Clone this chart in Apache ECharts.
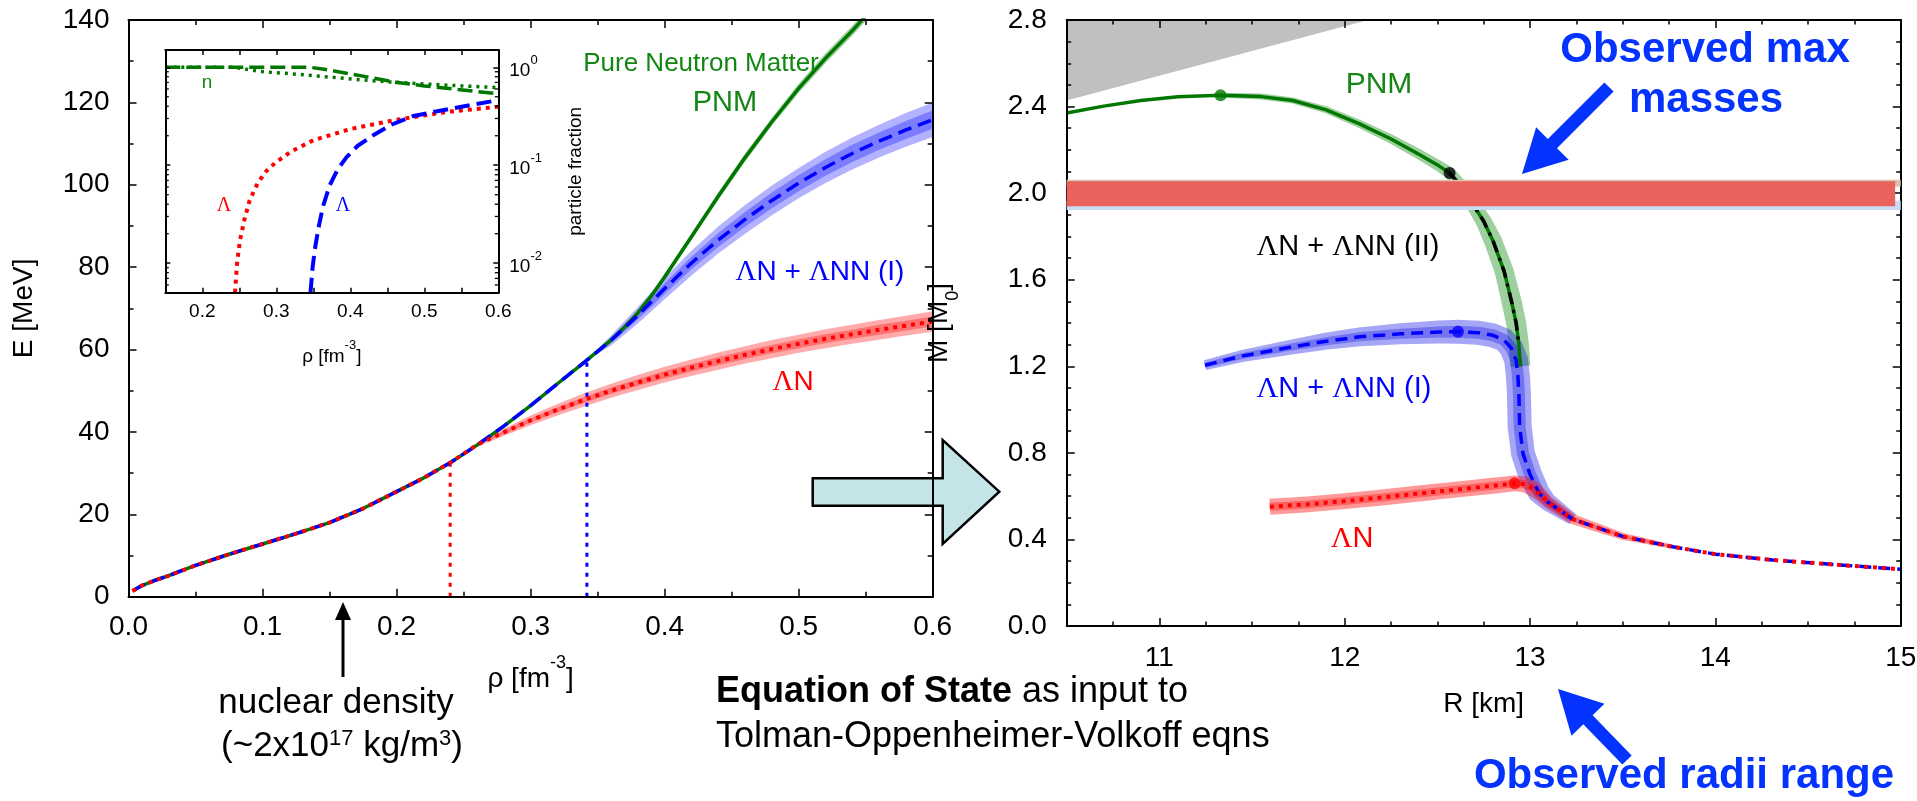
<!DOCTYPE html>
<html>
<head>
<meta charset="utf-8">
<title>Hyperon equation of state and neutron-star mass-radius relation</title>
<script src="https://cdn.jsdelivr.net/npm/echarts@6/dist/echarts.min.js"></script>
<style>
  html, body { margin: 0; padding: 0; background: #fff; }
  #chart { width: 1917px; height: 801px; }
</style>
</head>
<body>
<div id="chart"></div>
<script>
// ---------- Energy per particle E(rho) [MeV] vs density [fm^-3] ----------
// low-density part shared by all three models
const rhoLow = [0.003, 0.01, 0.02, 0.03, 0.05, 0.075, 0.10, 0.125, 0.15, 0.175, 0.20, 0.22, 0.24];
const eLow   = [1.4, 2.7, 4.0, 5.1, 7.6, 10.3, 12.8, 15.3, 18.0, 21.4, 25.5, 28.8, 32.5];

// pure neutron matter above 0.24
const rhoPNM  = [0.26, 0.28, 0.30, 0.32, 0.34, 0.36, 0.37, 0.38, 0.39, 0.40, 0.42, 0.44, 0.46, 0.48, 0.50, 0.52, 0.54, 0.55];
const ePNM    = [36.8, 41.4, 46.4, 51.7, 56.9, 62.3, 65.4, 68.9, 73.0, 77.6, 87.4, 97.2, 106.6, 115.3, 123.4, 130.7, 137.4, 141.0];
const bandPNM = [0.1, 0.2, 0.3, 0.4, 0.5, 0.6, 0.6, 0.7, 0.7, 0.8, 0.8, 0.9, 1.0, 1.0, 1.1, 1.2, 1.2, 1.3];

// Lambda-N + Lambda-NN (I) above its threshold 0.34
const rhoHypI       = [0.36, 0.38, 0.40, 0.42, 0.44, 0.46, 0.48, 0.50, 0.52, 0.54, 0.56, 0.58, 0.60];
const eHypI         = [62.2, 68.3, 74.8, 81.0, 86.6, 91.6, 96.2, 100.4, 104.2, 107.6, 110.6, 113.3, 115.8];
const bandHypIOuter = [1.2, 2.0, 2.6, 3.0, 3.3, 3.5, 3.6, 3.7, 3.8, 3.9, 4.0, 4.1, 4.2];
const bandHypIInner = [0.6, 1.0, 1.3, 1.5, 1.7, 1.8, 1.9, 2.0, 2.0, 2.1, 2.1, 2.2, 2.2];

// Lambda-N only, above its threshold 0.24
const rhoHypN       = [0.26, 0.28, 0.30, 0.32, 0.34, 0.36, 0.38, 0.40, 0.42, 0.44, 0.46, 0.48, 0.50, 0.52, 0.54, 0.56, 0.58, 0.60];
const eHypN         = [36.9, 39.9, 42.8, 45.4, 47.8, 50.0, 52.0, 53.9, 55.6, 57.2, 58.7, 60.1, 61.4, 62.6, 63.7, 64.8, 65.8, 66.8];
const bandHypNOuter = [0.5, 0.9, 1.2, 1.4, 1.6, 1.7, 1.8, 1.9, 2.0, 2.1, 2.1, 2.2, 2.2, 2.3, 2.3, 2.4, 2.4, 2.5];
const bandHypNInner = [0.2, 0.4, 0.5, 0.6, 0.7, 0.8, 0.8, 0.9, 0.9, 1.0, 1.0, 1.0, 1.1, 1.1, 1.1, 1.2, 1.2, 1.2];

// Lambda onset densities and the energy there
const thresholdRho = [0.24, 0.342];
const thresholdE   = [32.5, 57.4];

// ---------- inset: particle fractions ----------
const rhoFracN_I = [0.15, 0.345, 0.36, 0.38, 0.40, 0.43, 0.46, 0.50, 0.54, 0.60];
const fracN_I    = [1.0, 1.0, 0.965, 0.91, 0.855, 0.78, 0.705, 0.645, 0.60, 0.535];
const rhoFracN_N = [0.15, 0.244, 0.255, 0.278, 0.30, 0.323, 0.359, 0.40, 0.45, 0.50, 0.55, 0.60];
const fracN_N    = [1.0, 1.0, 0.965, 0.905, 0.88, 0.855, 0.81, 0.76, 0.71, 0.675, 0.645, 0.62];
const rhoFracL_N = [0.2442, 0.247, 0.251, 0.257, 0.264, 0.275, 0.287, 0.30, 0.32, 0.35, 0.40, 0.46, 0.53, 0.60];
const fracL_N    = [0.005, 0.010, 0.0173, 0.028, 0.044, 0.066, 0.088, 0.108, 0.138, 0.180, 0.234, 0.289, 0.350, 0.395];
const rhoFracL_I = [0.3462, 0.349, 0.352, 0.357, 0.363, 0.372, 0.383, 0.395, 0.41, 0.431, 0.455, 0.485, 0.535, 0.60];
const fracL_I    = [0.005, 0.009, 0.0137, 0.023, 0.0377, 0.062, 0.091, 0.121, 0.158, 0.202, 0.258, 0.318, 0.377, 0.462];
const fracMinorTicks = [0.006, 0.007, 0.008, 0.009, 0.02, 0.03, 0.04, 0.05, 0.06, 0.07, 0.08, 0.09, 0.2, 0.3, 0.4, 0.5, 0.6, 0.7, 0.8, 0.9];

// ---------- Mass [M0] vs radius [km] ----------
const pnmR = [10.50, 10.70, 10.90, 11.10, 11.33, 11.55, 11.72, 11.90, 12.08, 12.25, 12.40, 12.51, 12.566, 12.63, 12.69, 12.75, 12.80, 12.86, 12.90, 12.925, 12.94, 12.948];
const pnmM = [2.370, 2.402, 2.428, 2.445, 2.452, 2.446, 2.428, 2.385, 2.320, 2.250, 2.180, 2.125, 2.093, 2.030, 1.951, 1.870, 1.780, 1.640, 1.500, 1.400, 1.300, 1.200];

const hyp2R = [12.566, 12.63, 12.69, 12.75, 12.80, 12.86, 12.90, 12.925, 12.94];
const hyp2M = [2.093, 2.030, 1.951, 1.870, 1.780, 1.640, 1.500, 1.400, 1.300];

const hyp1R = [11.246, 11.45, 11.72, 11.90, 12.08, 12.30, 12.51, 12.611, 12.72, 12.80, 12.86, 12.90, 12.925, 12.935, 12.94, 12.944, 12.962, 12.998];
const hyp1M = [1.205, 1.248, 1.290, 1.316, 1.336, 1.350, 1.358, 1.360, 1.355, 1.343, 1.322, 1.283, 1.228, 1.150, 1.074, 0.920, 0.797, 0.705];

const hypNR = [11.596, 11.80, 12.00, 12.20, 12.40, 12.60, 12.80, 12.917, 12.97, 13.01];
const hypNM = [0.551, 0.562, 0.577, 0.594, 0.612, 0.630, 0.648, 0.659, 0.655, 0.638];

// low-mass branch common to all models
const tailR = [13.05, 13.10, 13.23, 13.50, 13.77, 14.00, 14.31, 14.67, 15.00];
const tailM = [0.612, 0.570, 0.494, 0.414, 0.366, 0.332, 0.305, 0.282, 0.262];

// maximum-mass configurations: PNM, (II), (I), LambdaN
const maxR = [11.33, 12.566, 12.611, 12.917];
const maxM = [2.452, 2.093, 1.360, 0.659];

// observed two-solar-mass pulsars
const obsMassBlue = [1.922, 1.965];
const obsMassTan  = [2.030, 2.062];
const obsMassRed  = [1.940, 2.055];

// causality-excluded wedge
const causalR = [10.5, 10.5, 12.126];
const causalM = [2.8, 2.428, 2.8];

// ---------- styling ----------
const SANS  = '"Liberation Sans", Arial, Helvetica, sans-serif';
const SERIF = '"Liberation Serif", "Times New Roman", serif';
const AX = '#000';
const GREEN_LINE = '#007800';
const GREEN_TXT = '#138613';
const BLUE = '#0000ff';
const RED = '#ff0000';
const NOTE = '#0433ff';
const dotColors = [GREEN_LINE, '#000000', BLUE, RED];

// half-widths (px) of the shaded uncertainty ribbons in the M-R panel
const pnmRibbonPx      = [2.5, 3, 3, 3.5, 4, 4.5, 5, 5.5, 6, 6.5, 7, 8, 9, 9.5, 10, 10, 10, 10];
const hyp1RibbonOuter  = [5, 6, 7.5, 8.5, 9.5, 10.5, 11.5, 12, 12, 12, 12, 12, 12, 12, 12, 12, 12, 12, 11, 9, 6];
const hyp1RibbonInner  = [2.5, 3, 3.5, 4, 4.5, 5, 5.5, 6, 6, 6, 6, 6, 6, 6, 6, 6, 6, 6, 5.5, 4.5, 3];
const hypNRibbonOuter  = [8, 8, 8, 8, 8, 8, 8, 8, 8, 8, 7, 6, 5, 3.5, 2];
const hypNRibbonInner  = [4, 4, 4, 4, 4, 4, 4, 4, 4, 4, 3.5, 3, 2.5, 1.5, 1];

const pairs = (xs, ys) => xs.map((x, i) => [x, ys[i]]);

function bandSeries(xs, ys, half, fill, opacity, xi, yi) {
  const upper = xs.map((x, i) => [x, ys[i] + half[i]]);
  const lower = xs.map((x, i) => [x, ys[i] - half[i]]).reverse();
  const pts = upper.concat(lower);
  return {
    type: 'custom', xAxisIndex: xi, yAxisIndex: yi, z: 1, silent: true, clip: true,
    data: [pts[0]],
    renderItem: (params, api) => ({
      type: 'polygon',
      shape: { points: pts.map(p => api.coord(p)) },
      style: { fill: fill, opacity: opacity }
    })
  };
}

// shaded ribbon of given pixel half-width around a curve that may turn back on itself
function ribbonSeries(pts, halfPx, fill, xi, yi, z) {
  return {
    type: 'custom', xAxisIndex: xi, yAxisIndex: yi, z: z, silent: true, clip: true,
    data: [pts[0]],
    renderItem: (params, api) => {
      const P = pts.map(p => api.coord(p));
      const n = P.length, left = [], right = [];
      for (let i = 0; i < n; i++) {
        const a = P[Math.max(i - 1, 0)], b = P[Math.min(i + 1, n - 1)];
        let tx = b[0] - a[0], ty = b[1] - a[1];
        const L = Math.hypot(tx, ty) || 1;
        tx /= L; ty /= L;
        const nx = -ty, ny = tx, h = halfPx[i];
        left.push([P[i][0] + nx * h, P[i][1] + ny * h]);
        right.push([P[i][0] - nx * h, P[i][1] - ny * h]);
      }
      return { type: 'polygon', shape: { points: left.concat(right.reverse()) }, style: { fill: fill } };
    }
  };
}

function polySeries(pts, fill, xi, yi, z) {
  return {
    type: 'custom', xAxisIndex: xi, yAxisIndex: yi, z: z, silent: true, clip: true,
    data: [pts[0]],
    renderItem: (params, api) => ({
      type: 'polygon',
      shape: { points: pts.map(p => api.coord(p)) },
      style: { fill: fill }
    })
  };
}

function lineSeries(data, color, width, type, xi, yi, z) {
  return {
    type: 'line', xAxisIndex: xi, yAxisIndex: yi, z: z, data: data,
    symbol: 'none', silent: true, clip: true, smooth: false,
    lineStyle: { color: color, width: width, type: type, cap: 'butt', join: 'round' }
  };
}

// assembled curves
const sharedCount = rhoPNM.filter(r => r <= 0.34).length;
const pnmCurve  = pairs(rhoLow.concat(rhoPNM), eLow.concat(ePNM));
const hypICurve = pairs(rhoLow.concat(rhoPNM.slice(0, sharedCount), rhoHypI),
                        eLow.concat(ePNM.slice(0, sharedCount), eHypI));
const hypNCurve = pairs(rhoLow.concat(rhoHypN), eLow.concat(eHypN));
const lastLow = rhoLow.length - 1;
const onsetI = sharedCount - 1;

// mass-radius sequences
const pnmMR  = pairs(pnmR, pnmM);
const hyp2MR = pairs(hyp2R, hyp2M);
const hyp1MR = pairs(hyp1R.concat(tailR), hyp1M.concat(tailM));
const hypNMR = pairs(hypNR.concat(tailR), hypNM.concat(tailM));
const pnmBandMR  = pnmMR.slice(4);
const hyp1BandMR = pairs(hyp1R.concat(tailR.slice(0, 3)), hyp1M.concat(tailM.slice(0, 3)));
const hypNBandMR = pairs(hypNR.concat(tailR.slice(0, 5)), hypNM.concat(tailM.slice(0, 5)));

// ---------- axes ----------
const tickStyle = { color: AX, width: 1.5 };
const lineAx = { show: true, onZero: false, lineStyle: { color: AX, width: 2 } };
const noSplit = { show: false };

const supRich = (base, sup, lh) => ({
  b: { fontSize: base, lineHeight: lh, verticalAlign: 'bottom', color: AX, fontFamily: SANS },
  s: { fontSize: sup, lineHeight: sup, verticalAlign: 'top', color: AX, fontFamily: SANS }
});

const tenthFmt = v => (Math.abs(v * 10 - Math.round(v * 10)) < 1e-6 ? v.toFixed(1) : '');

const xAxes = [
  { // 0: main panel, bottom
    gridIndex: 0, type: 'value', min: 0, max: 0.6, interval: 0.1, position: 'bottom', z: 4,
    axisLine: lineAx, splitLine: noSplit,
    axisTick: { show: true, inside: true, length: 8, lineStyle: tickStyle },
    minorTick: { show: true, splitNumber: 2, length: 5, lineStyle: tickStyle },
    axisLabel: { fontSize: 28, color: AX, margin: 17, fontFamily: SANS, formatter: v => v.toFixed(1) },
    name: '{b|ρ [fm}{s|-3}{b|]}', nameLocation: 'middle', nameGap: 57,
    nameTextStyle: { rich: supRich(28, 18, 40) }
  },
  { // 1: main panel, top mirror
    gridIndex: 0, type: 'value', min: 0, max: 0.6, interval: 0.1, position: 'top', z: 4,
    axisLine: lineAx, splitLine: noSplit, axisLabel: { show: false },
    axisTick: { show: true, inside: true, length: 8, lineStyle: tickStyle },
    minorTick: { show: true, splitNumber: 2, length: 5, lineStyle: tickStyle }
  },
  { // 2: inset, bottom
    gridIndex: 1, type: 'value', min: 0.15, max: 0.6, interval: 0.05, position: 'bottom', z: 4,
    axisLine: lineAx, splitLine: noSplit,
    axisTick: { show: true, inside: true, length: 5, lineStyle: tickStyle },
    axisLabel: { fontSize: 19, color: AX, margin: 10, fontFamily: SANS, formatter: tenthFmt },
    name: '{b|ρ [fm}{s|-3}{b|]}', nameLocation: 'middle', nameGap: 46,
    nameTextStyle: { rich: supRich(19, 13, 28) }
  },
  { // 3: inset, top mirror
    gridIndex: 1, type: 'value', min: 0.15, max: 0.6, interval: 0.05, position: 'top', z: 4,
    axisLine: lineAx, splitLine: noSplit, axisLabel: { show: false },
    axisTick: { show: true, inside: true, length: 5, lineStyle: tickStyle }
  },
  { // 4: M-R panel, bottom (integer km)
    gridIndex: 2, type: 'value', min: 10.5, max: 15, position: 'bottom', z: 4,
    axisLine: lineAx, splitLine: noSplit,
    axisTick: { show: true, inside: true, length: 8, lineStyle: tickStyle, customValues: [11, 12, 13, 14, 15] },
    axisLabel: { fontSize: 28, color: AX, margin: 18, fontFamily: SANS, customValues: [11, 12, 13, 14, 15] },
    name: 'R [km]', nameLocation: 'middle', nameGap: 64,
    nameTextStyle: { fontSize: 28, color: AX, fontFamily: SANS }
  },
  { // 5: M-R panel, top mirror
    gridIndex: 2, type: 'value', min: 10.5, max: 15, position: 'top', z: 4,
    axisLine: lineAx, splitLine: noSplit, axisLabel: { show: false },
    axisTick: { show: true, inside: true, length: 8, lineStyle: tickStyle, customValues: [11, 12, 13, 14, 15] }
  },
  { // 6: M-R quarter-km ticks, bottom
    gridIndex: 3, type: 'value', min: 10.5, max: 15, interval: 0.25, position: 'bottom', z: 4,
    axisLine: { show: false }, splitLine: noSplit, axisLabel: { show: false },
    axisTick: { show: true, inside: true, length: 4.5, lineStyle: tickStyle }
  },
  { // 7: M-R quarter-km ticks, top
    gridIndex: 3, type: 'value', min: 10.5, max: 15, interval: 0.25, position: 'top', z: 4,
    axisLine: { show: false }, splitLine: noSplit, axisLabel: { show: false },
    axisTick: { show: true, inside: true, length: 4.5, lineStyle: tickStyle }
  }
];

const logLabel = v => {
  const e = Math.round(Math.log10(v));
  return '{b|10}{s|' + e + '}';
};

const yAxes = [
  { // 0: main panel, left
    gridIndex: 0, type: 'value', min: 0, max: 140, interval: 20, position: 'left', z: 4,
    axisLine: lineAx, splitLine: noSplit,
    axisTick: { show: true, inside: true, length: 8, lineStyle: tickStyle },
    minorTick: { show: true, splitNumber: 2, length: 5, lineStyle: tickStyle },
    axisLabel: { fontSize: 28, color: AX, margin: 19, fontFamily: SANS },
    name: 'E [MeV]', nameLocation: 'middle', nameGap: 90,
    nameTextStyle: { fontSize: 28, color: AX, fontFamily: SANS }
  },
  { // 1: main panel, right mirror
    gridIndex: 0, type: 'value', min: 0, max: 140, interval: 20, position: 'right', z: 4,
    axisLine: lineAx, splitLine: noSplit, axisLabel: { show: false },
    axisTick: { show: true, inside: true, length: 8, lineStyle: tickStyle },
    minorTick: { show: true, splitNumber: 2, length: 5, lineStyle: tickStyle }
  },
  { // 2: inset, right (log labels)
    gridIndex: 1, type: 'log', logBase: 10, min: 0.005, max: 1.5, position: 'right', z: 4,
    axisLine: lineAx, splitLine: noSplit,
    axisTick: { show: true, inside: true, length: 5, lineStyle: tickStyle },
    axisLabel: { showMinLabel: false, showMaxLabel: false, margin: 11, formatter: logLabel,
                 rich: supRich(19, 13, 26) },
    name: 'particle fraction', nameLocation: 'middle', nameGap: 68,
    nameTextStyle: { fontSize: 19, color: AX, fontFamily: SANS }
  },
  { // 3: inset, left mirror
    gridIndex: 1, type: 'log', logBase: 10, min: 0.005, max: 1.5, position: 'left', z: 4,
    axisLine: lineAx, splitLine: noSplit, axisLabel: { show: false },
    axisTick: { show: true, inside: true, length: 5, lineStyle: tickStyle }
  },
  { // 4: M-R panel, left
    gridIndex: 2, type: 'value', min: 0, max: 2.8, interval: 0.4, position: 'left', z: 4,
    axisLine: lineAx, splitLine: noSplit,
    axisTick: { show: true, inside: true, length: 8, lineStyle: tickStyle },
    minorTick: { show: true, splitNumber: 4, length: 4.5, lineStyle: tickStyle },
    axisLabel: { fontSize: 28, color: AX, margin: 20, fontFamily: SANS, formatter: v => v.toFixed(1) },
    name: '{b|M [M}{s|0}{b|]}', nameLocation: 'middle', nameGap: 105,
    nameTextStyle: { rich: {
      b: { fontSize: 28, lineHeight: 36, verticalAlign: 'top', color: AX, fontFamily: SANS },
      s: { fontSize: 18, lineHeight: 18, verticalAlign: 'bottom', color: AX, fontFamily: SANS }
    } }
  },
  { // 5: M-R panel, right mirror
    gridIndex: 2, type: 'value', min: 0, max: 2.8, interval: 0.4, position: 'right', z: 4,
    axisLine: lineAx, splitLine: noSplit, axisLabel: { show: false },
    axisTick: { show: true, inside: true, length: 8, lineStyle: tickStyle },
    minorTick: { show: true, splitNumber: 4, length: 4.5, lineStyle: tickStyle }
  },
  { // 6: placeholder for the tick overlay grid
    gridIndex: 3, type: 'value', min: 0, max: 1, show: false
  }
];

// ---------- series ----------
const series = [
  // uncertainty bands, E(rho)
  bandSeries([rhoLow[lastLow]].concat(rhoPNM), [eLow[lastLow]].concat(ePNM), [0].concat(bandPNM), GREEN_LINE, 0.35, 0, 0),
  bandSeries([rhoPNM[onsetI]].concat(rhoHypI), [ePNM[onsetI]].concat(eHypI), [0].concat(bandHypIOuter), BLUE, 0.3, 0, 0),
  bandSeries([rhoPNM[onsetI]].concat(rhoHypI), [ePNM[onsetI]].concat(eHypI), [0].concat(bandHypIInner), BLUE, 0.3, 0, 0),
  bandSeries([rhoLow[lastLow]].concat(rhoHypN), [eLow[lastLow]].concat(eHypN), [0].concat(bandHypNOuter), RED, 0.33, 0, 0),
  bandSeries([rhoLow[lastLow]].concat(rhoHypN), [eLow[lastLow]].concat(eHypN), [0].concat(bandHypNInner), RED, 0.33, 0, 0),
  // Lambda onset markers
  lineSeries([[thresholdRho[0], 0], [thresholdRho[0], thresholdE[0]]], RED, 3, [4, 6], 0, 0, 2),
  lineSeries([[thresholdRho[1], 0], [thresholdRho[1], thresholdE[1]]], BLUE, 3, [4, 6], 0, 0, 2),
  // central curves
  lineSeries(pnmCurve, GREEN_LINE, 3.5, 'solid', 0, 0, 3),
  lineSeries(hypICurve, BLUE, 3.5, [14, 7], 0, 0, 3),
  lineSeries(hypNCurve, RED, 4, [4, 5], 0, 0, 3),

  // inset: particle fractions
  lineSeries(pairs(rhoFracN_I, fracN_I), GREEN_LINE, 3.5, [15, 6], 2, 2, 3),
  lineSeries(pairs(rhoFracN_N, fracN_N), GREEN_LINE, 3.5, [3, 5], 2, 2, 3),
  lineSeries(pairs(rhoFracL_N, fracL_N), RED, 4, [4, 5], 2, 2, 3),
  lineSeries(pairs(rhoFracL_I, fracL_I), BLUE, 4, [15, 7], 2, 2, 3),
  { // logarithmic sub-ticks on both inset edges
    type: 'custom', xAxisIndex: 2, yAxisIndex: 2, z: 4, silent: true,
    data: fracMinorTicks.map(v => [0.15, v]),
    renderItem: (params, api) => {
      const v = api.value(1);
      const a = api.coord([0.15, v]);
      const b = api.coord([0.6, v]);
      return { type: 'group', children: [
        { type: 'line', shape: { x1: a[0], y1: a[1], x2: a[0] + 3.5, y2: a[1] }, style: { stroke: AX, lineWidth: 1.3 } },
        { type: 'line', shape: { x1: b[0] - 3.5, y1: b[1], x2: b[0], y2: b[1] }, style: { stroke: AX, lineWidth: 1.3 } }
      ] };
    }
  },

  // M-R panel
  polySeries(pairs(causalR, causalM), '#c0c0c0', 4, 4, 1),
  ribbonSeries(pnmBandMR, pnmRibbonPx, 'rgba(0,128,0,0.38)', 4, 4, 2),
  lineSeries(pnmMR, GREEN_LINE, 3.5, 'solid', 4, 4, 3),
  lineSeries(hyp2MR, '#000000', 3.5, [12, 6, 3, 6], 4, 4, 3),
  ribbonSeries(hyp1BandMR, hyp1RibbonOuter, 'rgba(0,0,230,0.35)', 4, 4, 3),
  ribbonSeries(hyp1BandMR, hyp1RibbonInner, 'rgba(0,0,230,0.3)', 4, 4, 3),
  lineSeries(hyp1MR, BLUE, 3.5, [12, 7], 4, 4, 3),
  ribbonSeries(hypNBandMR, hypNRibbonOuter, 'rgba(255,0,0,0.4)', 4, 4, 3),
  ribbonSeries(hypNBandMR, hypNRibbonInner, 'rgba(255,0,0,0.35)', 4, 4, 3),
  lineSeries(hypNMR, RED, 4, [4, 5], 4, 4, 3),
  // observed maximum masses
  polySeries([[10.5, obsMassBlue[0]], [15, obsMassBlue[0]], [15, obsMassBlue[1]], [10.5, obsMassBlue[1]]], '#c8dcf6', 4, 4, 5),
  polySeries([[10.5, obsMassTan[0]], [15, obsMassTan[0]], [15, obsMassTan[1]], [10.5, obsMassTan[1]]], '#dcc2ae', 4, 4, 5),
  polySeries([[10.5, obsMassRed[0]], [14.97, obsMassRed[0]], [14.97, obsMassRed[1]], [10.5, obsMassRed[1]]], '#e9625b', 4, 4, 5),
  { // maximum-mass points
    type: 'scatter', xAxisIndex: 4, yAxisIndex: 4, z: 6, silent: true, symbolSize: 12,
    data: maxR.map((r, i) => ({ value: [r, maxM[i]], itemStyle: { color: dotColors[i] } }))
  }
];

// ---------- annotations ----------
function arrowPoints(x0, y0, x1, y1, shaftW, headL, headW) {
  const dx = x1 - x0, dy = y1 - y0, L = Math.hypot(dx, dy);
  const ux = dx / L, uy = dy / L, px = -uy, py = ux;
  const bx = x1 - ux * headL, by = y1 - uy * headL;
  return [
    [x0 + px * shaftW / 2, y0 + py * shaftW / 2],
    [bx + px * shaftW / 2, by + py * shaftW / 2],
    [bx + px * headW / 2, by + py * headW / 2],
    [x1, y1],
    [bx - px * headW / 2, by - py * headW / 2],
    [bx - px * shaftW / 2, by - py * shaftW / 2],
    [x0 - px * shaftW / 2, y0 - py * shaftW / 2]
  ];
}

function label(x, y, text, size, color, extra) {
  return {
    type: 'text', x: x, y: y, z: 50, silent: true,
    style: Object.assign({ text: text, fontFamily: SANS, fontSize: size, fill: color,
                           align: 'center', verticalAlign: 'middle' }, extra || {})
  };
}
const lam = size => ({ rich: { g: { fontFamily: SERIF, fontSize: size + 1 } } });

const graphics = [
  // EoS -> TOV arrow between the panels
  { type: 'polygon', z: 1, silent: true,
    shape: { points: [[812.7, 478.3], [942.7, 478.3], [942.7, 440], [999.3, 491.7], [942.7, 544], [942.7, 505.7], [812.7, 505.7]] },
    style: { fill: '#c5e4e7', stroke: '#000', lineWidth: 2.5 } },
  { type: 'polygon', z: 50, silent: true, shape: { points: arrowPoints(343, 677, 343, 602, 3, 18, 16) }, style: { fill: '#000' } },
  { type: 'polygon', z: 50, silent: true, shape: { points: arrowPoints(1609, 87, 1522, 174, 13, 43, 46) }, style: { fill: NOTE } },
  { type: 'polygon', z: 50, silent: true, shape: { points: arrowPoints(1627, 760, 1558, 689, 13, 43, 46) }, style: { fill: NOTE } },

  // E(rho) panel labels
  label(701, 64, 'Pure Neutron Matter', 26, GREEN_TXT),
  label(725, 103, 'PNM', 29, GREEN_TXT),
  label(820, 272, '{g|Λ}N + {g|Λ}NN (I)', 28, BLUE, lam(28)),
  label(793, 382, '{g|Λ}N', 28, RED, lam(28)),
  // inset labels
  label(207, 83, 'n', 19, GREEN_TXT),
  label(224, 206, 'Λ', 20, RED, { fontFamily: SERIF }),
  label(343, 206, 'Λ', 20, BLUE, { fontFamily: SERIF }),
  // M-R panel labels
  label(1379, 85, 'PNM', 30, GREEN_TXT),
  label(1348, 247, '{g|Λ}N + {g|Λ}NN (II)', 29, '#000', lam(29)),
  label(1344, 389, '{g|Λ}N + {g|Λ}NN (I)', 29, BLUE, lam(29)),
  label(1352, 539, '{g|Λ}N', 29, RED, lam(29)),
  label(1705, 50, 'Observed max', 42, NOTE, { fontWeight: 'bold' }),
  label(1706, 100, 'masses', 42, NOTE, { fontWeight: 'bold' }),
  label(1684, 776, 'Observed radii range', 42, NOTE, { fontWeight: 'bold' }),
  // captions
  label(336, 703, 'nuclear density', 35, '#000'),
  label(342, 746, '{n|(~2x10}{s|17}{n| kg/m}{s|3}{n|)}', 35, '#000', { rich: {
    n: { fontSize: 35, lineHeight: 36, verticalAlign: 'bottom', fontFamily: SANS },
    s: { fontSize: 22, lineHeight: 22, verticalAlign: 'top', fontFamily: SANS }
  } }),
  label(716, 692, '{b|Equation of State} as input to', 36, '#000', { align: 'left', rich: {
    b: { fontSize: 36, fontWeight: 'bold', fontFamily: SANS }
  } }),
  label(716, 737, 'Tolman-Oppenheimer-Volkoff eqns', 36, '#000', { align: 'left' })
];

const option = {
  animation: false,
  backgroundColor: '#ffffff',
  textStyle: { fontFamily: SANS, color: AX },
  grid: [
    { left: 128.5, top: 20, width: 804.2, height: 576.7, containLabel: false, outerBoundsMode: 'none' },
    { left: 165.3, top: 50, width: 333, height: 242.7, containLabel: false, outerBoundsMode: 'none' },
    { left: 1066.7, top: 20, width: 834, height: 606, containLabel: false, outerBoundsMode: 'none' },
    { left: 1066.7, top: 20, width: 834, height: 606, containLabel: false, outerBoundsMode: 'none' }
  ],
  xAxis: xAxes,
  yAxis: yAxes,
  series: series,
  graphic: { elements: graphics }
};

const chart = echarts.init(document.getElementById('chart'), null, { renderer: 'canvas', width: 1917, height: 801 });
chart.setOption(option);
</script>
</body>
</html>
